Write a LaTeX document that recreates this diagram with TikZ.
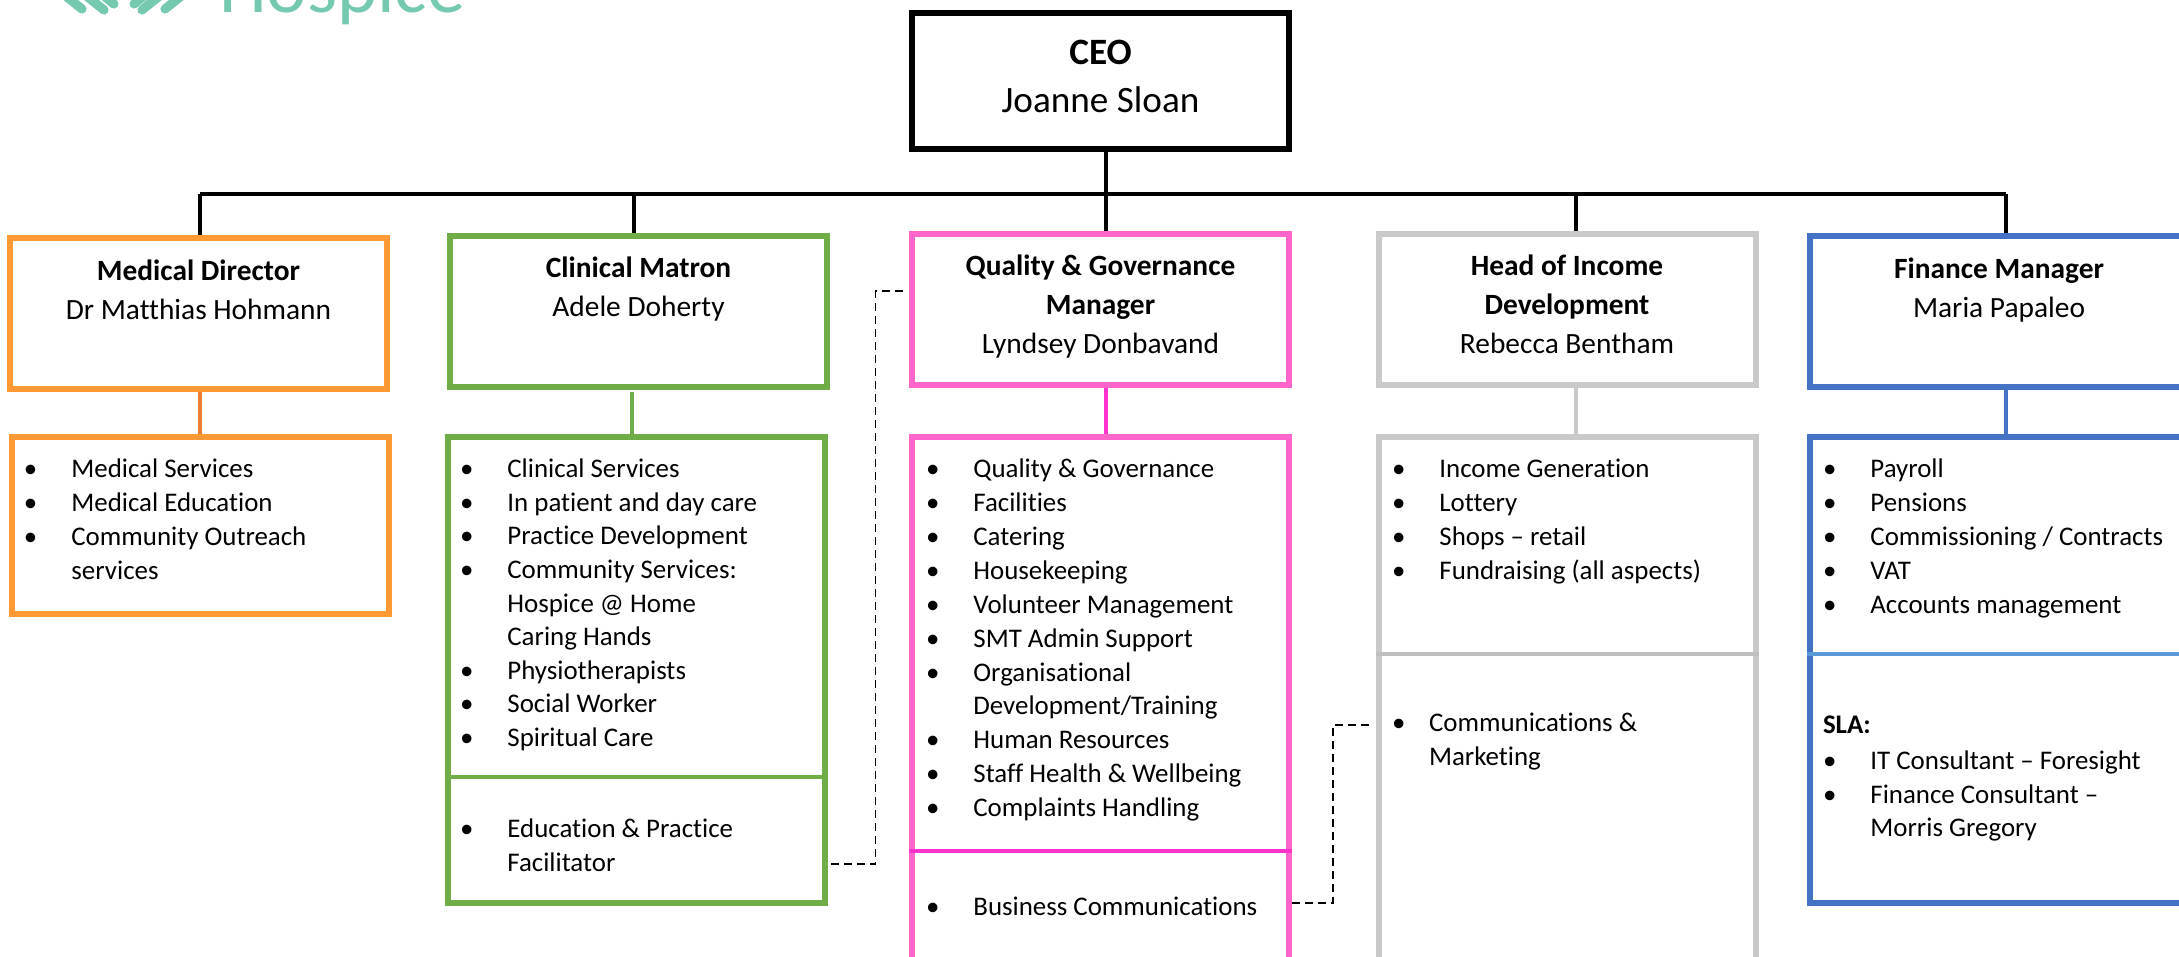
\documentclass[tikz,border=0pt]{standalone}
\usepackage{fontspec}
\setmainfont[Ligatures=NoCommon]{Carlito}
\definecolor{medorange}{HTML}{FF9933}
\definecolor{medline}{HTML}{ED7D31}
\definecolor{clingreen}{HTML}{70AD47}
\definecolor{qualpink}{HTML}{FF66CC}
\definecolor{qualline}{HTML}{FF33CC}
\definecolor{incgrey}{HTML}{C9C9C9}
\definecolor{incline}{HTML}{BFBFBF}
\definecolor{finblue}{HTML}{4472C4}
\definecolor{finline}{HTML}{5B9BD5}
\definecolor{logoteal}{HTML}{74C9B0}
\newcommand{\blt}{\makebox[23.7pt][l]{\textbullet}}
\newcommand{\nob}{\makebox[23.7pt][l]{}}
\tikzset{
  x=0.5pt, y=-0.5pt,
  every node/.style = {inner sep=0pt, outer sep=0pt},
  box/.style = {draw=#1, line width=3pt, outer sep=1.5pt, minimum width=188.5pt, fill=white},
  title/.style = {align=center, anchor=north, font=\fontsize{14.7}{19.4}\selectfont},
  items/.style = {align=left, anchor=north west, font=\fontsize{13.45}{16.95}\selectfont},
  link/.style = {line width=1.8pt},
  sublink/.style = {line width=1.7pt},
  rule/.style = {line width=1.8pt},
  dashlink/.style = {line width=0.7pt, dash pattern=on 4pt off 2.5pt}
}
\begin{document}
\begin{tikzpicture}
\useasboundingbox (0,0) rectangle (2179,957);
% logo, cut by the page
\begin{scope}
\clip (0,0) rectangle (2179,957);
\node[anchor=base west, text=logoteal, font=\fontsize{38.3}{40}\selectfont] (logotext) at (219,13) {Hospice};
\foreach \a/\b/\c/\d in {57/-11/82/9, 79/-10/104/10, 89/-16/114/4, 159/-16/134/4, 167/-10/142/10, 190/-11/165/9}
  \draw[logoteal, line width=4.6pt, line cap=round] (\a,\b) -- (\c,\d);
\end{scope}
% boxes
\node[box=black, minimum height=68pt] (ceo) at (1100.5,81) {};
\node[box=medorange, minimum height=75.5pt] (medical) at (198.5,313.5) {};
\node[box=clingreen, minimum height=75.5pt] (clinical) at (638.5,311.5) {};
\node[box=qualpink, minimum height=75.5pt] (quality) at (1100.5,309.5) {};
\node[box=incgrey, minimum height=75.5pt] (income) at (1567,309.5) {};
\node[box=finblue, minimum height=75.5pt] (finance) at (1998.5,311.5) {};
\node[box=medorange, minimum height=88.5pt] (medlist) at (200,525.5) {};
\node[box=clingreen, minimum height=233pt] (clinlist) at (636,670) {};
\node[box=qualpink, minimum height=300pt] (quallist) at (1100.5,737) {};
\node[box=incgrey, minimum height=300pt] (inclist) at (1567,737) {};
\node[box=finblue, minimum height=233pt] (finlist) at (1998.5,670) {};
% lines inside the lists
\draw[rule, clingreen] (clinlist.west |- 0,777) -- (clinlist.east |- 0,777);
\draw[rule, qualline] (quallist.west |- 0,851) -- (quallist.east |- 0,851);
\draw[rule, incline] (inclist.west |- 0,654) -- (inclist.east |- 0,654);
\draw[rule, finline] (finlist.west |- 0,654) -- (finlist.east |- 0,654);
% titles
\node[title, font=\fontsize{18.6}{24}\selectfont] (ceotext) at (1100.5,40) {\textbf{CEO}\\Joanne Sloan};
\node[title] (medtext) at (198.5,260) {\textbf{Medical Director}\\Dr Matthias Hohmann};
\node[title] (clintext) at (638.5,257) {\textbf{Clinical Matron}\\Adele Doherty};
\node[title] (qualtext) at (1100.5,255) {\textbf{Quality \& Governance}\\\textbf{Manager}\\Lyndsey Donbavand};
\node[title] (inctext) at (1567,255) {\textbf{Head of Income}\\\textbf{Development}\\Rebecca Bentham};
\node[title] (fintext) at (1999,258) {\textbf{Finance Manager}\\Maria Papaleo};
% lists
\node[items] (meditems) at (24,459) {\blt Medical Services\\\blt Medical Education\\\blt Community Outreach\\\nob services};
\node[items, font=\fontsize{13.45}{16.8}\selectfont] (clinitems) at (460,459) {\blt Clinical Services\\\blt In patient and day care\\\blt Practice Development\\\blt Community Services:\\\nob Hospice @ Home\\\nob Caring Hands\\\blt Physiotherapists\\\blt Social Worker\\\blt Spiritual Care};
\node[items] (clinsub) at (460,819) {\blt Education \& Practice\\\nob Facilitator};
\node[items] (qualitems) at (926,459) {\blt Quality \& Governance\\\blt Facilities\\\blt Catering\\\blt Housekeeping\\\blt Volunteer Management\\\blt SMT Admin Support\\\blt Organisational\\\nob Development/Training\\\blt Human Resources\\\blt Staff Health \& Wellbeing\\\blt Complaints Handling};
\node[items] (qualsub) at (926,897) {\blt Business Communications};
\node[items] (incitems) at (1392,459) {\blt Income Generation\\\blt Lottery\\\blt Shops -- retail\\\blt Fundraising (all aspects)};
\node[items] (incsub) at (1392,713) {\makebox[18.5pt][l]{\textbullet}Communications \&\\\makebox[18.5pt][l]{}Marketing};
\node[items] (finitems) at (1823,459) {\blt Payroll\\\blt Pensions\\\blt Commissioning / Contracts\\\blt VAT\\\blt Accounts management};
\node[items] (finsub) at (1823,716) {\textbf{SLA:}\\[0.8pt]\blt IT Consultant -- Foresight\\\blt Finance Consultant --\\\nob Morris Gregory};
% reporting lines
\coordinate (medbus) at (200,194);
\coordinate (clinbus) at (634,194);
\coordinate (qualbus) at (1106,194);
\coordinate (incbus) at (1576,194);
\coordinate (finbus) at (2006,194);
\draw[link] (medbus) -- (finbus);
\draw[link] (qualbus |- ceo.south) -- (qualbus |- quality.north);
\foreach \bus/\top in {medbus/medical, clinbus/clinical, incbus/income, finbus/finance}
  \draw[link] (\bus) -- (\bus |- \top.north);
\draw[sublink, medline] (medbus |- medical.south) -- (medbus |- medlist.north);
\draw[sublink, clingreen] (632,392) -- (632,434);
\draw[sublink, qualline] (qualbus |- quality.south) -- (qualbus |- quallist.north);
\draw[sublink, incgrey] (incbus |- income.south) -- (incbus |- inclist.north);
\draw[sublink, finblue] (finbus |- finance.south) -- (finbus |- finlist.north);
% dashed links
\coordinate (clinout) at (831,864);
\coordinate (qualin) at (905,291);
\coordinate (qualout) at (1292,903);
\coordinate (incin) at (1373,725);
\draw[dashlink] (clinout) -| (875.5,291) -- (qualin);
\draw[dashlink] (qualout) -| (1333,725) -- (incin);
\end{tikzpicture}
\end{document}
